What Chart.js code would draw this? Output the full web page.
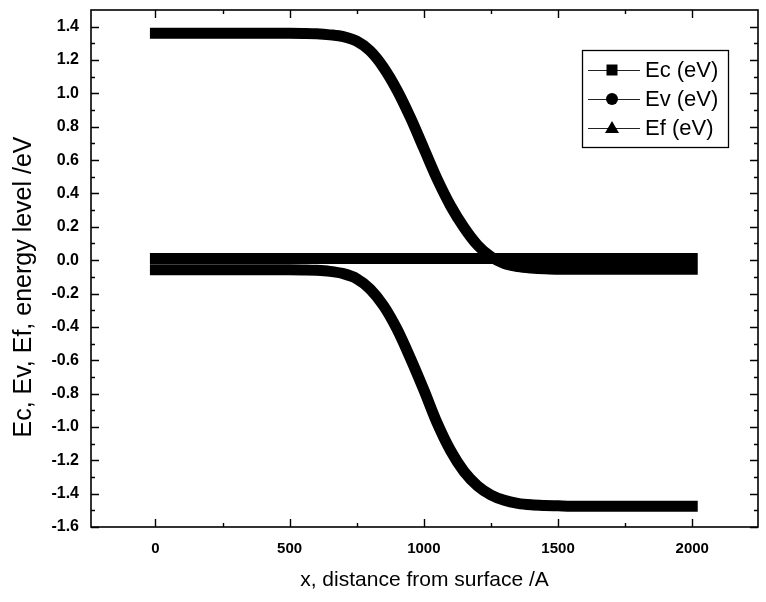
<!DOCTYPE html>
<html><head><meta charset="utf-8">
<script src="https://cdn.jsdelivr.net/npm/chart.js@4.4.0/dist/chart.umd.min.js"></script>
<style>html,body{margin:0;padding:0;background:#fff;}canvas{display:block;}</style>
</head><body>
<canvas id="c" width="766" height="602"></canvas>
<script>
// ---- data ----
const xValues = [0,50,100,150,200,250,300,350,400,450,500,550,600,650,700,750,800,850,900,950,1000,1050,1100,1150,1200,1250,1300,1350,1400,1450,1500,1550,1600,1650,1700,1750,1800,1850,1900,1950,2000];
const ecValues = [1.36,1.36,1.36,1.36,1.36,1.36,1.36,1.36,1.36,1.36,1.36,1.359,1.357,1.351,1.34,1.313,1.255,1.155,1.02,0.855,0.67,0.485,0.325,0.195,0.09,0.02,-0.02,-0.038,-0.047,-0.052,-0.054,-0.055,-0.055,-0.055,-0.055,-0.055,-0.055,-0.055,-0.055,-0.055,-0.055];
const evValues = [-0.058,-0.058,-0.058,-0.058,-0.058,-0.058,-0.058,-0.058,-0.058,-0.058,-0.058,-0.059,-0.061,-0.067,-0.081,-0.111,-0.173,-0.273,-0.413,-0.588,-0.778,-0.978,-1.143,-1.268,-1.353,-1.408,-1.44,-1.458,-1.467,-1.471,-1.473,-1.475,-1.475,-1.475,-1.475,-1.475,-1.475,-1.475,-1.475,-1.475,-1.475];
const efValues = [0.01,0.01,0.01,0.01,0.01,0.01,0.01,0.01,0.01,0.01,0.01,0.01,0.01,0.01,0.01,0.01,0.01,0.01,0.01,0.01,0.01,0.01,0.01,0.01,0.01,0.01,0.01,0.01,0.01,0.01,0.01,0.01,0.01,0.01,0.01,0.01,0.01,0.01,0.01,0.01,0.01];
const seriesNames = ['Ec (eV)', 'Ev (eV)', 'Ef (eV)'];
const seriesMarkers = ['rect', 'circle', 'triangle'];
const yMajorTicks = [-1.6,-1.4,-1.2,-1.0,-0.8,-0.6,-0.4,-0.2,0.0,0.2,0.4,0.6,0.8,1.0,1.2,1.4];
const yMinorTicks = [-1.5,-1.3,-1.1,-0.9,-0.7,-0.5,-0.3,-0.1,0.1,0.3,0.5,0.7,0.9,1.1,1.3];
const xMajorTicks = [0,500,1000,1500,2000];
const xMinorTicks = [250,750,1250,1750];
const xTitle = 'x, distance from surface /A';
const yTitle = 'Ec, Ev, Ef, energy level /eV';

const FONT = '"Liberation Sans", Arial, Helvetica, sans-serif';
const series = [ecValues, evValues, efValues];

const datasets = series.map((vals, i) => ({
  label: seriesNames[i],
  data: xValues.map((x, k) => ({x: x, y: vals[k]})),
  borderColor: '#000',
  backgroundColor: '#000',
  borderWidth: 11,
  borderCapStyle: 'square',
  borderJoinStyle: 'round',
  pointRadius: 0,
  cubicInterpolationMode: 'monotone',
  fill: false
}));

const framePlugin = {
  id: 'frame',
  afterDraw(chart) {
    const {ctx, chartArea: a, scales} = chart;
    const xs = scales.x, ys = scales.y;
    ctx.save();
    ctx.strokeStyle = '#000';
    ctx.lineWidth = 1.6;
    ctx.strokeRect(a.left, a.top, a.right - a.left, a.bottom - a.top);
    ctx.lineWidth = 1.4;
    const MAJ = 8, MIN = 4;
    ctx.beginPath();
    const yt = (v, len) => {
      const p = Math.round(ys.getPixelForValue(v)) + 0.5;
      ctx.moveTo(a.left, p); ctx.lineTo(a.left + len, p);
      ctx.moveTo(a.right, p); ctx.lineTo(a.right - len, p);
    };
    const xt = (v, len) => {
      const p = Math.round(xs.getPixelForValue(v)) + 0.5;
      ctx.moveTo(p, a.bottom); ctx.lineTo(p, a.bottom - len);
      ctx.moveTo(p, a.top); ctx.lineTo(p, a.top + len);
    };
    yMajorTicks.forEach(v => yt(v, MAJ));
    yMinorTicks.forEach(v => yt(v, MIN));
    xMajorTicks.forEach(v => xt(v, MAJ));
    xMinorTicks.forEach(v => xt(v, MIN));
    ctx.stroke();

    // y axis title (drawn slightly below the plot centre, as in the reference)
    ctx.save();
    ctx.translate(24, 287);
    ctx.rotate(-Math.PI / 2);
    ctx.font = '25px ' + FONT;
    ctx.fillStyle = '#000';
    ctx.textAlign = 'center';
    ctx.textBaseline = 'middle';
    ctx.fillText(yTitle, 0, 0);
    ctx.restore();

    // legend box
    const bx = 582, by = 50, bw = 146, bh = 97;
    ctx.fillStyle = '#fff';
    ctx.fillRect(bx, by, bw, bh);
    ctx.strokeStyle = '#000';
    ctx.lineWidth = 1.3;
    ctx.strokeRect(bx + 0.5, by + 0.5, bw, bh);
    const rows = [70, 99, 128];
    ctx.font = '22px ' + FONT;
    ctx.textBaseline = 'middle';
    ctx.textAlign = 'left';
    rows.forEach((ry, i) => {
      ctx.strokeStyle = '#222';
      ctx.lineWidth = 1;
      ctx.beginPath();
      ctx.moveTo(588, ry + 0.5); ctx.lineTo(640, ry + 0.5);
      ctx.stroke();
      ctx.fillStyle = '#000';
      const mx = 612;
      ctx.beginPath();
      if (seriesMarkers[i] === 'rect') {
        ctx.rect(mx - 5.5, ry - 5.5, 11, 11);
      } else if (seriesMarkers[i] === 'circle') {
        ctx.arc(mx, ry, 6, 0, Math.PI * 2);
      } else {
        ctx.moveTo(mx, ry - 7); ctx.lineTo(mx + 7, ry + 5); ctx.lineTo(mx - 7, ry + 5); ctx.closePath();
      }
      ctx.fill();
      ctx.fillText(seriesNames[i], 645, ry + 1);
    });
    ctx.restore();
  }
};

new Chart(document.getElementById('c'), {
  type: 'line',
  data: {datasets},
  options: {
    responsive: false,
    animation: false,
    events: [],
    layout: {padding: {top: 10, right: 8, left: 0, bottom: 0}},
    plugins: {legend: {display: false}, tooltip: {enabled: false}},
    scales: {
      x: {
        type: 'linear',
        min: -240, max: 2245,
        afterBuildTicks: s => { s.ticks = xMajorTicks.map(v => ({value: v})); },
        afterFit: s => { s.height = 75; s.paddingLeft = 0; s.paddingRight = 0; },
        grid: {display: true, drawOnChartArea: false, drawTicks: false},
        border: {display: false},
        ticks: {
          color: '#000', padding: 13,
          font: {family: FONT, size: 15, weight: 'bold'},
          callback: v => String(v)
        },
        title: {display: true, text: xTitle, color: '#000', padding: {top: 4, bottom: 9},
          font: {family: FONT, size: 21}}
      },
      y: {
        type: 'linear',
        min: -1.6, max: 1.5,
        afterBuildTicks: s => { s.ticks = yMajorTicks.map(v => ({value: v})); },
        afterFit: s => { s.width = 91; s.paddingTop = 0; s.paddingBottom = 0; },
        grid: {display: true, drawOnChartArea: false, drawTicks: false},
        border: {display: false},
        ticks: {
          color: '#000', padding: 12,
          font: {family: FONT, size: 16, weight: 'bold'},
          callback: v => Number(v).toFixed(1)
        },
        title: {display: false, text: yTitle}
      }
    }
  },
  plugins: [framePlugin]
});
</script>
</body></html>
